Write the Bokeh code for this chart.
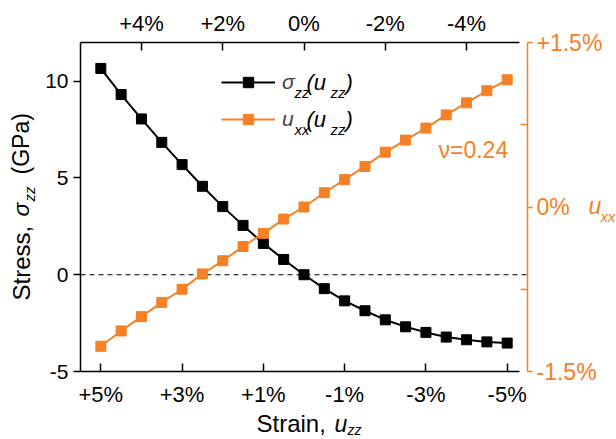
from math import pi
from bokeh.plotting import figure
from bokeh.models import Range1d, LinearAxis, FixedTicker, Label, Legend, LegendItem
from bokeh.embed import file_html
from bokeh.resources import INLINE

# ---- data ----
strain = [5.0, 4.5, 4.0, 3.5, 3.0, 2.5, 2.0, 1.5, 1.0, 0.5, 0.0,
          -0.5, -1.0, -1.5, -2.0, -2.5, -3.0, -3.5, -4.0, -4.5, -5.0]
stress = [10.66, 9.31, 8.05, 6.84, 5.69, 4.57, 3.52, 2.55, 1.62, 0.79, 0.0,
          -0.72, -1.35, -1.86, -2.33, -2.69, -2.98, -3.22, -3.36, -3.47, -3.53]
uxx = [-1.27, -1.13, -1.00, -0.87, -0.75, -0.61, -0.49, -0.36, -0.24, -0.11, 0.00,
       0.13, 0.25, 0.37, 0.50, 0.61, 0.72, 0.84, 0.95, 1.06, 1.16]

bottom_ticks = [5, 3, 1, -1, -3, -5]
bottom_labels = ["+5%", "+3%", "+1%", "-1%", "-3%", "-5%"]
top_ticks = [4, 2, 0, -2, -4]
top_labels = ["+4%", "+2%", "0%", "-2%", "-4%"]
left_ticks = [-5, 0, 5, 10]
left_labels = ["-5", "0", "5", "10"]
right_ticks = [-1.5, 0, 1.5]
right_labels = ["-1.5%", "0%", "+1.5%"]
right_minor = [-0.75, 0.75]
nu_text = "\u03bd=0.24"

# axis limits
X_HI, X_LO = 5.5, -5.5
Y_LO, Y_HI = -5.0, 12.0
R_LO, R_HI = -1.5, 1.5

ORANGE = "#F58025"
FONT = "Liberation Sans"

W, H = 616, 439
PL, PR, PT, PB = 80, 527, 42, 371          # plot-box edges in canvas pixels
sx = (PR - PL) / (X_HI - X_LO)
sy = (PB - PT) / (Y_HI - Y_LO)
sr = (PB - PT) / (R_HI - R_LO)

x_range = Range1d(X_HI + PL / sx, X_HI - (W - PL) / sx)
y_range = Range1d(Y_LO - (H - PB) / sy, Y_HI + PT / sy)
r_range = Range1d(R_LO - (H - PB) / sr, R_HI + PT / sr)

p = figure(width=W, height=H, x_range=x_range, y_range=y_range,
           output_backend="svg", toolbar_location=None,
           x_axis_location=None, y_axis_location=None, min_border=0)
p.grid.visible = False
p.outline_line_color = None
p.background_fill_color = "white"
p.border_fill_color = "white"
p.extra_y_ranges = {"r": r_range}

def make_axis(ticks, labels, size, color="black", tick_in=0, tick_out=0, standoff=5,
              minor=None, **kw):
    ticker = FixedTicker(ticks=ticks, minor_ticks=minor or [])
    ax = LinearAxis(ticker=ticker,
                    major_label_overrides={t: l for t, l in zip(ticks, labels)},
                    major_tick_in=tick_in, major_tick_out=tick_out,
                    minor_tick_in=7 if minor else 0, minor_tick_out=0,
                    major_label_standoff=standoff, **kw)
    ax.axis_line_width = 1.5
    ax.axis_line_color = color
    ax.major_tick_line_color = color
    ax.major_tick_line_width = 1.5
    ax.minor_tick_line_color = color
    ax.minor_tick_line_width = 1.5
    ax.major_label_text_color = color
    ax.major_label_text_font = FONT
    ax.major_label_text_font_size = size
    return ax

xb = make_axis(bottom_ticks, bottom_labels, "22px", tick_in=8, standoff=10,
               fixed_location=Y_LO, bounds=(-5.3, X_HI))
p.add_layout(xb, "below")
xt = make_axis(top_ticks, top_labels, "22px", tick_in=8, standoff=7,
               fixed_location=Y_HI, bounds=(-5.3, X_HI))
p.add_layout(xt, "above")
yl = make_axis(left_ticks, left_labels, "21px", tick_out=7, standoff=5,
               fixed_location=X_HI, bounds=(Y_LO, Y_HI))
p.add_layout(yl, "left")
yr = make_axis(right_ticks, right_labels, "23px", color=ORANGE, tick_out=5, standoff=4,
               minor=right_minor, fixed_location=X_LO, bounds=(R_LO, R_HI),
               y_range_name="r")
p.add_layout(yr, "right")

# zero-stress reference line across the plot box
p.line([X_HI, X_LO], [0, 0], line_color="black", line_dash="5 4", line_width=1.2)

r1 = p.line(strain, stress, line_color="black", line_width=2)
r1s = p.scatter(strain, stress, marker="square", size=10, fill_color="black", line_color="black")
r2 = p.line(strain, uxx, line_color=ORANGE, line_width=2, y_range_name="r")
r2s = p.scatter(strain, uxx, marker="square", size=10, fill_color=ORANGE, line_color=ORANGE,
                y_range_name="r")

legend = Legend(items=[LegendItem(label="\u03c3", renderers=[r1, r1s]),
                       LegendItem(label="u", renderers=[r2, r2s])],
                location=(221, H - 132), glyph_width=54, glyph_height=26, label_height=26,
                spacing=11, padding=0, margin=0, border_line_color=None,
                background_fill_alpha=0, label_standoff=7,
                label_text_font=FONT, label_text_font_style="italic",
                label_text_font_size="21px")
p.add_layout(legend)

def X(px):
    return X_HI - (px - PL) / sx

def Y(py):
    return Y_HI - (py - PT) / sy

def lab(text, px, py, size, color="black", style="normal", angle=0):
    # (px, py): left end of the text on its baseline, in canvas pixels
    fs = float(size.replace("px", ""))
    if angle == 0:
        py = py - 0.33 * fs
    else:
        px = px - 0.33 * fs
    p.add_layout(Label(x=X(px), y=Y(py), text=text, text_font=FONT, text_font_size=size,
                       text_color=color, text_font_style=style, angle=angle,
                       text_align="left", text_baseline="middle"))

# legend label remainders
lab("zz", 294, 96.5, "15px", style="italic")
lab("(u", 306, 89.5, "22px", style="italic")
lab("zz", 330, 96.5, "15px", style="italic")
lab(")", 345, 89.5, "22px", style="italic")
lab("xx", 294, 134, "15px", style="italic")
lab("(u", 306, 126.5, "22px", style="italic")
lab("zz", 330, 134, "15px", style="italic")
lab(")", 345, 126.5, "22px", style="italic")

# left axis title (vertical)
lab("Stress, ", 28.5, 300, "24px", angle=pi / 2)
lab("\u03c3", 28.5, 216, "23px", style="italic", angle=pi / 2)
lab("zz", 34, 201, "15px", style="italic", angle=pi / 2)
lab("(GPa)", 28.5, 174, "23px", angle=pi / 2)

# bottom axis title
lab("Strain, ", 256, 431, "24px")
lab("u", 334, 431, "23px", style="italic")
lab("zz", 347, 434, "14px", style="italic")

# right axis title
lab("u", 588, 213.5, "23px", color=ORANGE, style="italic")
lab("xx", 600, 221, "15px", color=ORANGE, style="italic")

lab(nu_text, 438, 157, "23px", color=ORANGE)

open("out.html", "w").write(file_html(p, INLINE))
